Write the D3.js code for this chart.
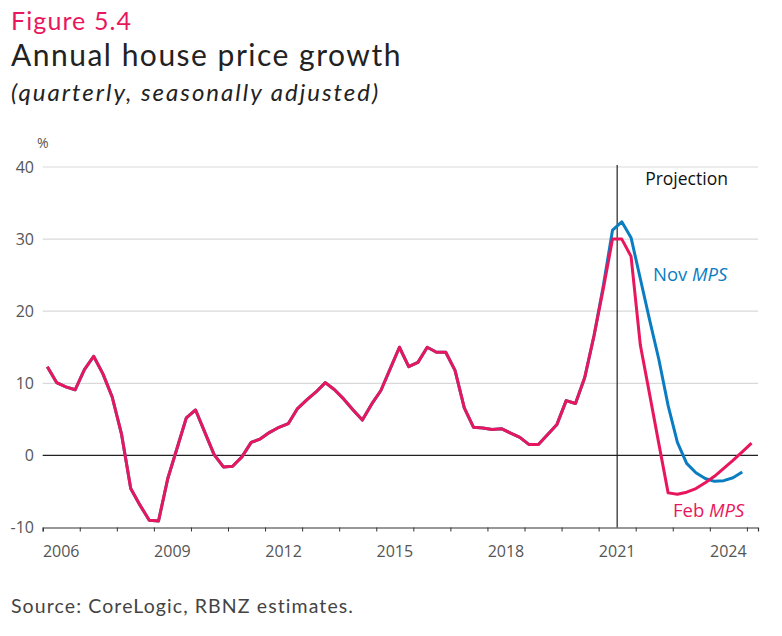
<!DOCTYPE html>
<meta charset="utf-8">
<title>Annual house price growth</title>
<style>
    body { margin: 0; background: #fff; }
    .title text { font-family: Lato, sans-serif; }
    .axis text { font-family: "Open Sans", sans-serif; font-size: 16px; fill: #555; }
    .grid line { stroke: #d9d9d9; stroke-width: 1.2; }
    .series { fill: none; stroke-width: 3; stroke-linejoin: round; }
</style>

<svg width="782" height="636"></svg>
<script src="https://cdnjs.cloudflare.com/ajax/libs/d3/7.8.5/d3.min.js"></script>
<script>

    // quarterly, first point is 2006 Q1
    var startYear = 2006;
    var febMPS = [12.3, 10.1, 9.5, 9.1, 11.9, 13.75, 11.3, 8.1, 3.0, -4.6,
        -6.9, -9.0, -9.1, -3.2, 1.0, 5.2, 6.3, 3.2, 0.1, -1.6,
        -1.5, -0.2, 1.8, 2.3, 3.2, 3.9, 4.4, 6.5, 7.7, 8.8,
        10.1, 9.1, 7.8, 6.3, 4.9, 7.1, 9.0, 12.0, 15.0, 12.3,
        12.9, 15.0, 14.3, 14.3, 11.8, 6.6, 3.9, 3.8, 3.6, 3.7,
        3.1, 2.5, 1.5, 1.5, 2.9, 4.3, 7.6, 7.2, 10.8, 16.6,
        23.1, 30.0, 30.0, 27.6, 15.3, 8.5, 1.6, -5.2, -5.4, -5.1,
        -4.6, -3.8, -2.9, -1.8, -0.7, 0.5, 1.7];
    var novMPS = [12.3, 10.1, 9.5, 9.1, 11.9, 13.75, 11.3, 8.1, 3.0, -4.6,
        -6.9, -9.0, -9.1, -3.2, 1.0, 5.2, 6.3, 3.2, 0.1, -1.6,
        -1.5, -0.2, 1.8, 2.3, 3.2, 3.9, 4.4, 6.5, 7.7, 8.8,
        10.1, 9.1, 7.8, 6.3, 4.9, 7.1, 9.0, 12.0, 15.0, 12.3,
        12.9, 15.0, 14.3, 14.3, 11.8, 6.6, 3.9, 3.8, 3.6, 3.7,
        3.1, 2.5, 1.5, 1.5, 2.9, 4.3, 7.6, 7.2, 10.8, 16.6,
        23.5, 31.25, 32.4, 30.2, 24.5, 18.8, 13.3, 6.9, 1.8, -1.1,
        -2.4, -3.2, -3.6, -3.5, -3.1, -2.3];
    var yTicks = [-10, 0, 10, 20, 30, 40];
    var yearLabels = [2006, 2009, 2012, 2015, 2018, 2021, 2024];
    var projectionStart = 2021.5;

    var pink = "#e8175d", blue = "#0a7dc2";

    var svg = d3.select("svg");

    var x = d3.scaleLinear().domain([2006, 2025.3]).range([42.7, 758]);
    var y = d3.scaleLinear().domain([-10, 40]).range([527.5, 167]);

    function qx(d, i) { return x(startYear + i / 4 + 0.125); }

    // titles
    var t = svg.append("g").attr("class", "title");
    t.append("text").attr("x", 11).attr("y", 30).attr("font-size", 25).attr("letter-spacing", 1.1)
        .attr("fill", pink).text("Figure 5.4");
    t.append("text").attr("x", 11).attr("y", 66).attr("font-size", 30).attr("letter-spacing", 1.5)
        .attr("fill", "#222").text("Annual house price growth");
    t.append("text").attr("x", 11).attr("y", 101).attr("font-size", 24).attr("letter-spacing", 2)
        .attr("font-style", "italic").attr("fill", "#222")
        .text("(quarterly, seasonally adjusted)");

    // grid
    svg.append("g").attr("class", "grid")
        .selectAll("line")
        .data(yTicks.filter(function(d) { return d !== 0 && d !== -10; }))
        .enter().append("line")
            .attr("x1", x(2006)).attr("x2", x(2025.3))
            .attr("y1", function(d) { return y(d); })
            .attr("y2", function(d) { return y(d); });

    // y labels
    var ya = svg.append("g").attr("class", "axis");
    ya.selectAll("text.tick")
        .data(yTicks)
        .enter().append("text")
            .attr("x", 34)
            .attr("y", function(d) { return y(d); })
            .attr("dy", "0.35em")
            .attr("text-anchor", "end")
            .text(function(d) { return d; });
    ya.append("text").attr("x", 37).attr("y", 148).style("font-size", "14px").text("%");

    // bottom axis: ticks at each year start, labels centred in the year
    var xa = svg.append("g").attr("class", "axis")
        .attr("transform", "translate(0," + y(-10) + ")")
        .call(d3.axisBottom(x).tickValues(d3.range(2006, 2026)).tickSize(4).tickFormat(""));
    xa.select(".domain").attr("stroke", "#333").attr("stroke-width", 1.2);
    xa.selectAll(".tick line").attr("stroke", "#333");

    svg.append("g").attr("class", "axis")
        .selectAll("text")
        .data(yearLabels)
        .enter().append("text")
            .attr("x", function(d) { return x(d + 0.5); })
            .attr("y", 557)
            .attr("text-anchor", "middle")
            .text(function(d) { return d; });

    // zero line
    svg.append("line")
        .attr("x1", x(2006)).attr("x2", x(2025.3))
        .attr("y1", y(0)).attr("y2", y(0))
        .attr("stroke", "#222").attr("stroke-width", 1.2);

    // projection marker
    svg.append("line")
        .attr("x1", x(projectionStart)).attr("x2", x(projectionStart))
        .attr("y1", y(40) - 2).attr("y2", y(-10))
        .attr("stroke", "#222").attr("stroke-width", 1.2);
    svg.append("text")
        .attr("x", x(projectionStart) + 28).attr("y", 185)
        .attr("font-family", "Open Sans, sans-serif").attr("font-size", 17.5).attr("fill", "#111")
        .text("Projection");

    var line = d3.line().x(qx).y(function(d) { return y(d); });

    svg.append("path").datum(novMPS).attr("class", "series").attr("stroke", blue).attr("d", line);
    svg.append("path").datum(febMPS).attr("class", "series").attr("stroke", pink).attr("d", line);

    // series labels
    var nov = svg.append("text").attr("x", 653).attr("y", 281)
        .attr("font-family", "Open Sans, sans-serif").attr("font-size", 18.5).attr("fill", blue);
    nov.append("tspan").text("Nov ");
    nov.append("tspan").attr("font-style", "italic").text("MPS");

    var feb = svg.append("text").attr("x", 673).attr("y", 517)
        .attr("font-family", "Open Sans, sans-serif").attr("font-size", 18.5).attr("fill", pink);
    feb.append("tspan").text("Feb ");
    feb.append("tspan").attr("font-style", "italic").text("MPS");

    // source
    svg.append("text").attr("x", 11).attr("y", 613)
        .attr("font-family", "Lato, sans-serif").attr("font-size", 19.5).attr("letter-spacing", 1.1)
        .attr("fill", "#444")
        .text("Source: CoreLogic, RBNZ estimates.");

</script>
